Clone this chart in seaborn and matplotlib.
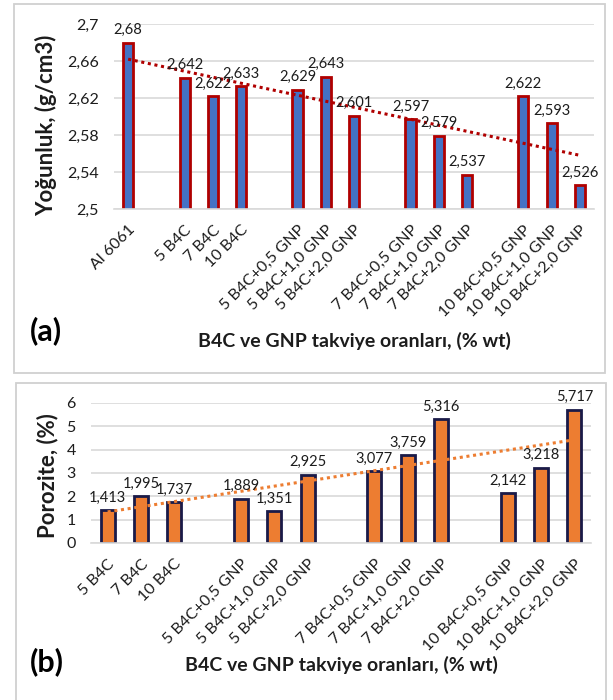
import numpy as np
import pandas as pd
import matplotlib
matplotlib.use("Agg")
import matplotlib.pyplot as plt
from matplotlib.patches import Rectangle
import seaborn as sns

# --- data -------------------------------------------------------------
# Blank entries ("") separate the groups of samples on the category axis.
density_labels = ["Al 6061", "", "5 B4C", "7 B4C", "10 B4C", "",
                  "5 B4C+0,5 GNP", "5 B4C+1,0 GNP", "5 B4C+2,0 GNP", "",
                  "7 B4C+0,5 GNP", "7 B4C+1,0 GNP", "7 B4C+2,0 GNP", "",
                  "10 B4C+0,5 GNP", "10 B4C+1,0 GNP", "10 B4C+2,0 GNP"]
density_values = [2.68, None, 2.642, 2.622, 2.633, None,
                  2.629, 2.643, 2.601, None,
                  2.597, 2.579, 2.537, None,
                  2.622, 2.593, 2.526]

porosity_labels = ["5 B4C", "7 B4C", "10 B4C", "",
                   "5 B4C+0,5 GNP", "5 B4C+1,0 GNP", "5 B4C+2,0 GNP", "",
                   "7 B4C+0,5 GNP", "7 B4C+1,0 GNP", "7 B4C+2,0 GNP", "",
                   "10 B4C+0,5 GNP", "10 B4C+1,0 GNP", "10 B4C+2,0 GNP"]
porosity_values = [1.413, 1.995, 1.737, None,
                   1.889, 1.351, 2.925, None,
                   3.077, 3.759, 5.316, None,
                   2.142, 3.218, 5.717]

density_ticks = [2.5, 2.54, 2.58, 2.62, 2.66, 2.7]
porosity_ticks = [0, 1, 2, 3, 4, 5, 6]

x_title = "B4C ve GNP takviye oranları, (% wt)"

sns.set_theme(style="white")
plt.rcParams["font.family"] = ["Lato", "DejaVu Sans"]
TEXT = "#1c1c1c"
GRID = "#D9D9D9"


def frame(labels, values):
    slots = [f"s{i}" for i in range(len(labels))]
    df = pd.DataFrame({"slot": slots, "value": values, "pos": range(len(labels))})
    return slots, df


def comma(v):
    return f"{v:g}".replace(".", ",")


def draw_panel(ax, labels, values, ticks, fill, edge, trend, width, ylabel,
               label_xy):
    slots, df = frame(labels, values)
    present = df.dropna()
    sns.barplot(data=present, x="slot", y="value", order=slots, ax=ax,
                color=fill, width=width, edgecolor=edge, linewidth=2.0,
                saturation=1)
    # linear trend line across the bar positions
    sns.regplot(data=present, x="pos", y="value", ax=ax, scatter=False,
                ci=None, truncate=True,
                line_kws=dict(color=trend, lw=2.2, ls=(0, (1, 1.2))))
    for c in ax.containers:
        ax.bar_label(c, labels=[comma(v) for v in present["value"]],
                     padding=4, fontsize=10.5, color=TEXT)
    ax.set_ylim(ticks[0], ticks[-1])
    ax.set_yticks(ticks)
    ax.set_yticklabels([comma(t) for t in ticks], fontsize=11.5, color=TEXT)
    ax.set_xlim(-0.5, len(labels) - 0.5)
    ax.set_xticks(range(len(labels)))
    ax.set_xticklabels(labels, rotation=45, ha="right",
                       rotation_mode="anchor", fontsize=11.5, color=TEXT)
    ax.tick_params(axis="both", length=0)
    ax.tick_params(axis="y", pad=11)
    ax.tick_params(axis="x", pad=10)
    ax.yaxis.grid(True, color=GRID, lw=1.2)
    ax.set_axisbelow(True)
    for s in ["top", "right", "left"]:
        ax.spines[s].set_visible(False)
    ax.spines["bottom"].set_color(GRID)
    ax.spines["bottom"].set_linewidth(1.2)
    ax.set_xlabel("")
    ax.set_ylabel(ylabel, fontsize=16, fontweight="bold", color=TEXT)
    ax.yaxis.set_label_coords(*label_xy)
    if ax.get_legend() is not None:
        ax.get_legend().remove()


W, H = 613, 700
fig = plt.figure(figsize=(W / 100, H / 100), dpi=100)


def fx(px):
    return px / W


def fy(py):
    return 1 - py / H


# panel frames
for (x0, y0, x1, y1) in [(14, 4, 605, 373), (16, 383, 606, 705)]:
    fig.add_artist(Rectangle((fx(x0), fy(y1)), fx(x1 - x0), (y1 - y0) / H,
                             transform=fig.transFigure, fill=False,
                             edgecolor="#D0D0D0", lw=1.3))

ax1 = fig.add_axes([fx(114), fy(209), fx(594 - 114), (209 - 24) / H])
draw_panel(ax1, density_labels, density_values, density_ticks,
           "#4472C4", "#B00000", "#B00000", 0.36, "Yoğunluk, (g/cm3)",
           ((57 - 114) / (594 - 114), 0.45))

ax2 = fig.add_axes([fx(91), fy(543), fx(591 - 91), (543 - 403) / H])
draw_panel(ax2, porosity_labels, porosity_values, porosity_ticks,
           "#ED7D31", "#1A1A48", "#ED7D31", 0.42, "Porozite, (%)",
           ((58 - 91) / (591 - 91), 0.48))

fig.text(fx(354), fy(341), x_title, ha="center", va="center", fontsize=14,
         fontweight="bold", color=TEXT)
fig.text(fx(341), fy(665), x_title, ha="center", va="center", fontsize=14,
         fontweight="bold", color=TEXT)
fig.text(fx(30), fy(331), "(a)", ha="left", va="center", fontsize=22,
         fontweight="bold", color="black")
fig.text(fx(30), fy(662), "(b)", ha="left", va="center", fontsize=22,
         fontweight="bold", color="black")

fig.savefig("out.png", dpi=100, facecolor="white")
